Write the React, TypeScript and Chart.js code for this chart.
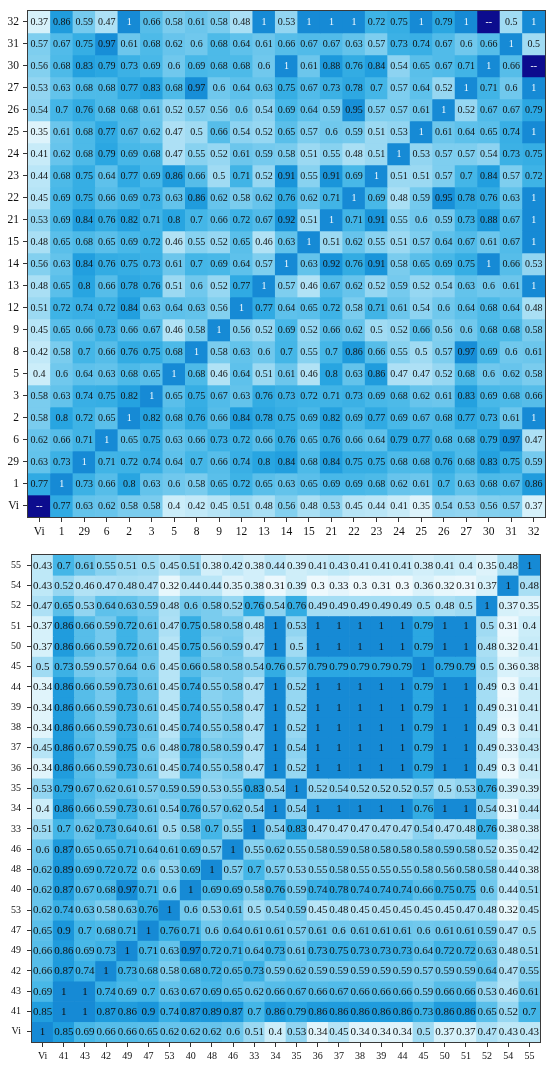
import React, { useEffect, useRef } from "react";
import { Chart, registerables } from "chart.js";

Chart.register(...registerables);

// ---------- Top heatmap data ----------
const topCols = ["Vi", "1", "29", "6", "2", "3", "5", "8", "9", "12", "13", "14", "15", "21", "22", "23", "24", "25", "26", "27", "30", "31", "32"];
const topRows = ["32", "31", "30", "27", "26", "25", "24", "23", "22", "21", "15", "14", "13", "12", "9", "8", "5", "3", "2", "6", "29", "1", "Vi"];
const topValues: (number | null)[][] = [
  [0.37, 0.86, 0.59, 0.47, 1, 0.66, 0.58, 0.61, 0.58, 0.48, 1, 0.53, 1, 1, 1, 0.72, 0.75, 1, 0.79, 1, null, 0.5, 1],
  [0.57, 0.67, 0.75, 0.97, 0.61, 0.68, 0.62, 0.6, 0.68, 0.64, 0.61, 0.66, 0.67, 0.67, 0.63, 0.57, 0.73, 0.74, 0.67, 0.6, 0.66, 1, 0.5],
  [0.56, 0.68, 0.83, 0.79, 0.73, 0.69, 0.6, 0.69, 0.68, 0.68, 0.6, 1, 0.61, 0.88, 0.76, 0.84, 0.54, 0.65, 0.67, 0.71, 1, 0.66, null],
  [0.53, 0.63, 0.68, 0.68, 0.77, 0.83, 0.68, 0.97, 0.6, 0.64, 0.63, 0.75, 0.67, 0.73, 0.78, 0.7, 0.57, 0.64, 0.52, 1, 0.71, 0.6, 1],
  [0.54, 0.7, 0.76, 0.68, 0.68, 0.61, 0.52, 0.57, 0.56, 0.6, 0.54, 0.69, 0.64, 0.59, 0.95, 0.57, 0.57, 0.61, 1, 0.52, 0.67, 0.67, 0.79],
  [0.35, 0.61, 0.68, 0.77, 0.67, 0.62, 0.47, 0.5, 0.66, 0.54, 0.52, 0.65, 0.57, 0.6, 0.59, 0.51, 0.53, 1, 0.61, 0.64, 0.65, 0.74, 1],
  [0.41, 0.62, 0.68, 0.79, 0.69, 0.68, 0.47, 0.55, 0.52, 0.61, 0.59, 0.58, 0.51, 0.55, 0.48, 0.51, 1, 0.53, 0.57, 0.57, 0.54, 0.73, 0.75],
  [0.44, 0.68, 0.75, 0.64, 0.77, 0.69, 0.86, 0.66, 0.5, 0.71, 0.52, 0.91, 0.55, 0.91, 0.69, 1, 0.51, 0.51, 0.57, 0.7, 0.84, 0.57, 0.72],
  [0.45, 0.69, 0.75, 0.66, 0.69, 0.73, 0.63, 0.86, 0.62, 0.58, 0.62, 0.76, 0.62, 0.71, 1, 0.69, 0.48, 0.59, 0.95, 0.78, 0.76, 0.63, 1],
  [0.53, 0.69, 0.84, 0.76, 0.82, 0.71, 0.8, 0.7, 0.66, 0.72, 0.67, 0.92, 0.51, 1, 0.71, 0.91, 0.55, 0.6, 0.59, 0.73, 0.88, 0.67, 1],
  [0.48, 0.65, 0.68, 0.65, 0.69, 0.72, 0.46, 0.55, 0.52, 0.65, 0.46, 0.63, 1, 0.51, 0.62, 0.55, 0.51, 0.57, 0.64, 0.67, 0.61, 0.67, 1],
  [0.56, 0.63, 0.84, 0.76, 0.75, 0.73, 0.61, 0.7, 0.69, 0.64, 0.57, 1, 0.63, 0.92, 0.76, 0.91, 0.58, 0.65, 0.69, 0.75, 1, 0.66, 0.53],
  [0.48, 0.65, 0.8, 0.66, 0.78, 0.76, 0.51, 0.6, 0.52, 0.77, 1, 0.57, 0.46, 0.67, 0.62, 0.52, 0.59, 0.52, 0.54, 0.63, 0.6, 0.61, 1],
  [0.51, 0.72, 0.74, 0.72, 0.84, 0.63, 0.64, 0.63, 0.56, 1, 0.77, 0.64, 0.65, 0.72, 0.58, 0.71, 0.61, 0.54, 0.6, 0.64, 0.68, 0.64, 0.48],
  [0.45, 0.65, 0.66, 0.73, 0.66, 0.67, 0.46, 0.58, 1, 0.56, 0.52, 0.69, 0.52, 0.66, 0.62, 0.5, 0.52, 0.66, 0.56, 0.6, 0.68, 0.68, 0.58],
  [0.42, 0.58, 0.7, 0.66, 0.76, 0.75, 0.68, 1, 0.58, 0.63, 0.6, 0.7, 0.55, 0.7, 0.86, 0.66, 0.55, 0.5, 0.57, 0.97, 0.69, 0.6, 0.61],
  [0.4, 0.6, 0.64, 0.63, 0.68, 0.65, 1, 0.68, 0.46, 0.64, 0.51, 0.61, 0.46, 0.8, 0.63, 0.86, 0.47, 0.47, 0.52, 0.68, 0.6, 0.62, 0.58],
  [0.58, 0.63, 0.74, 0.75, 0.82, 1, 0.65, 0.75, 0.67, 0.63, 0.76, 0.73, 0.72, 0.71, 0.73, 0.69, 0.68, 0.62, 0.61, 0.83, 0.69, 0.68, 0.66],
  [0.58, 0.8, 0.72, 0.65, 1, 0.82, 0.68, 0.76, 0.66, 0.84, 0.78, 0.75, 0.69, 0.82, 0.69, 0.77, 0.69, 0.67, 0.68, 0.77, 0.73, 0.61, 1],
  [0.62, 0.66, 0.71, 1, 0.65, 0.75, 0.63, 0.66, 0.73, 0.72, 0.66, 0.76, 0.65, 0.76, 0.66, 0.64, 0.79, 0.77, 0.68, 0.68, 0.79, 0.97, 0.47],
  [0.63, 0.73, 1, 0.71, 0.72, 0.74, 0.64, 0.7, 0.66, 0.74, 0.8, 0.84, 0.68, 0.84, 0.75, 0.75, 0.68, 0.68, 0.76, 0.68, 0.83, 0.75, 0.59],
  [0.77, 1, 0.73, 0.66, 0.8, 0.63, 0.6, 0.58, 0.65, 0.72, 0.65, 0.63, 0.65, 0.69, 0.69, 0.68, 0.62, 0.61, 0.7, 0.63, 0.68, 0.67, 0.86],
  [null, 0.77, 0.63, 0.62, 0.58, 0.58, 0.4, 0.42, 0.45, 0.51, 0.48, 0.56, 0.48, 0.53, 0.45, 0.44, 0.41, 0.35, 0.54, 0.53, 0.56, 0.57, 0.37],
];

// ---------- Bottom heatmap data ----------
const bottomCols = ["Vi", "41", "43", "42", "49", "47", "53", "40", "48", "46", "33", "34", "35", "36", "37", "38", "39", "44", "45", "50", "51", "52", "54", "55"];
const bottomRows = ["55", "54", "52", "51", "50", "45", "44", "39", "38", "37", "36", "35", "34", "33", "46", "48", "40", "53", "47", "49", "42", "43", "41", "Vi"];
const bottomValues: number[][] = [
  [0.43, 0.7, 0.61, 0.55, 0.51, 0.5, 0.45, 0.51, 0.38, 0.42, 0.38, 0.44, 0.39, 0.41, 0.43, 0.41, 0.41, 0.41, 0.38, 0.41, 0.4, 0.35, 0.48, 1],
  [0.43, 0.52, 0.46, 0.47, 0.48, 0.47, 0.32, 0.44, 0.44, 0.35, 0.38, 0.31, 0.39, 0.3, 0.33, 0.3, 0.31, 0.3, 0.36, 0.32, 0.31, 0.37, 1, 0.48],
  [0.47, 0.65, 0.53, 0.64, 0.63, 0.59, 0.48, 0.6, 0.58, 0.52, 0.76, 0.54, 0.76, 0.49, 0.49, 0.49, 0.49, 0.49, 0.5, 0.48, 0.5, 1, 0.37, 0.35],
  [0.37, 0.86, 0.66, 0.59, 0.72, 0.61, 0.47, 0.75, 0.58, 0.58, 0.48, 1, 0.53, 1, 1, 1, 1, 1, 0.79, 1, 1, 0.5, 0.31, 0.4],
  [0.37, 0.86, 0.66, 0.59, 0.72, 0.61, 0.45, 0.75, 0.56, 0.59, 0.47, 1, 0.5, 1, 1, 1, 1, 1, 0.79, 1, 1, 0.48, 0.32, 0.41],
  [0.5, 0.73, 0.59, 0.57, 0.64, 0.6, 0.45, 0.66, 0.58, 0.58, 0.54, 0.76, 0.57, 0.79, 0.79, 0.79, 0.79, 0.79, 1, 0.79, 0.79, 0.5, 0.36, 0.38],
  [0.34, 0.86, 0.66, 0.59, 0.73, 0.61, 0.45, 0.74, 0.55, 0.58, 0.47, 1, 0.52, 1, 1, 1, 1, 1, 0.79, 1, 1, 0.49, 0.3, 0.41],
  [0.34, 0.86, 0.66, 0.59, 0.73, 0.61, 0.45, 0.74, 0.55, 0.58, 0.47, 1, 0.52, 1, 1, 1, 1, 1, 0.79, 1, 1, 0.49, 0.31, 0.41],
  [0.34, 0.86, 0.66, 0.59, 0.73, 0.61, 0.45, 0.74, 0.55, 0.58, 0.47, 1, 0.52, 1, 1, 1, 1, 1, 0.79, 1, 1, 0.49, 0.3, 0.41],
  [0.45, 0.86, 0.67, 0.59, 0.75, 0.6, 0.48, 0.78, 0.58, 0.59, 0.47, 1, 0.54, 1, 1, 1, 1, 1, 0.79, 1, 1, 0.49, 0.33, 0.43],
  [0.34, 0.86, 0.66, 0.59, 0.73, 0.61, 0.45, 0.74, 0.55, 0.58, 0.47, 1, 0.52, 1, 1, 1, 1, 1, 0.79, 1, 1, 0.49, 0.3, 0.41],
  [0.53, 0.79, 0.67, 0.62, 0.61, 0.57, 0.59, 0.59, 0.53, 0.55, 0.83, 0.54, 1, 0.52, 0.54, 0.52, 0.52, 0.52, 0.57, 0.5, 0.53, 0.76, 0.39, 0.39],
  [0.4, 0.86, 0.66, 0.59, 0.73, 0.61, 0.54, 0.76, 0.57, 0.62, 0.54, 1, 0.54, 1, 1, 1, 1, 1, 0.76, 1, 1, 0.54, 0.31, 0.44],
  [0.51, 0.7, 0.62, 0.73, 0.64, 0.61, 0.5, 0.58, 0.7, 0.55, 1, 0.54, 0.83, 0.47, 0.47, 0.47, 0.47, 0.47, 0.54, 0.47, 0.48, 0.76, 0.38, 0.38],
  [0.6, 0.87, 0.65, 0.65, 0.71, 0.64, 0.61, 0.69, 0.57, 1, 0.55, 0.62, 0.55, 0.58, 0.59, 0.58, 0.58, 0.58, 0.58, 0.59, 0.58, 0.52, 0.35, 0.42],
  [0.62, 0.89, 0.69, 0.72, 0.72, 0.6, 0.53, 0.69, 1, 0.57, 0.7, 0.57, 0.53, 0.55, 0.58, 0.55, 0.55, 0.55, 0.58, 0.56, 0.58, 0.58, 0.44, 0.38],
  [0.62, 0.87, 0.67, 0.68, 0.97, 0.71, 0.6, 1, 0.69, 0.69, 0.58, 0.76, 0.59, 0.74, 0.78, 0.74, 0.74, 0.74, 0.66, 0.75, 0.75, 0.6, 0.44, 0.51],
  [0.62, 0.74, 0.63, 0.58, 0.63, 0.76, 1, 0.6, 0.53, 0.61, 0.5, 0.54, 0.59, 0.45, 0.48, 0.45, 0.45, 0.45, 0.45, 0.45, 0.47, 0.48, 0.32, 0.45],
  [0.65, 0.9, 0.7, 0.68, 0.71, 1, 0.76, 0.71, 0.6, 0.64, 0.61, 0.61, 0.57, 0.61, 0.6, 0.61, 0.61, 0.61, 0.6, 0.61, 0.61, 0.59, 0.47, 0.5],
  [0.66, 0.86, 0.69, 0.73, 1, 0.71, 0.63, 0.97, 0.72, 0.71, 0.64, 0.73, 0.61, 0.73, 0.75, 0.73, 0.73, 0.73, 0.64, 0.72, 0.72, 0.63, 0.48, 0.51],
  [0.66, 0.87, 0.74, 1, 0.73, 0.68, 0.58, 0.68, 0.72, 0.65, 0.73, 0.59, 0.62, 0.59, 0.59, 0.59, 0.59, 0.59, 0.57, 0.59, 0.59, 0.64, 0.47, 0.55],
  [0.69, 1, 1, 0.74, 0.69, 0.7, 0.63, 0.67, 0.69, 0.65, 0.62, 0.66, 0.67, 0.66, 0.67, 0.66, 0.66, 0.66, 0.59, 0.66, 0.66, 0.53, 0.46, 0.61],
  [0.85, 1, 1, 0.87, 0.86, 0.9, 0.74, 0.87, 0.89, 0.87, 0.7, 0.86, 0.79, 0.86, 0.86, 0.86, 0.86, 0.86, 0.73, 0.86, 0.86, 0.65, 0.52, 0.7],
  [1, 0.85, 0.69, 0.66, 0.66, 0.65, 0.62, 0.62, 0.62, 0.6, 0.51, 0.4, 0.53, 0.34, 0.45, 0.34, 0.34, 0.34, 0.5, 0.37, 0.37, 0.47, 0.43, 0.43],
];

// ---------- styling ----------
const FONT = '"Liberation Serif", "Times New Roman", serif';
const MISSING_COLOR = "#0c0c8e";
const colorStops: [number, number[]][] = [
  [0.3, [238, 249, 253]],
  [0.4, [203, 237, 249]],
  [0.5, [160, 219, 243]],
  [0.6, [112, 200, 237]],
  [0.7, [68, 182, 231]],
  [0.8, [40, 165, 225]],
  [0.9, [26, 150, 219]],
  [1.0, [22, 138, 213]],
];

function colorFor(v: number | null): string {
  if (v === null) return MISSING_COLOR;
  if (v <= colorStops[0][0]) return `rgb(${colorStops[0][1].join(",")})`;
  for (let i = 1; i < colorStops.length; i++) {
    const [x1, c1] = colorStops[i];
    const [x0, c0] = colorStops[i - 1];
    if (v <= x1) {
      const t = (v - x0) / (x1 - x0);
      const c = c0.map((a, k) => Math.round(a + (c1[k] - a) * t));
      return `rgb(${c.join(",")})`;
    }
  }
  return `rgb(${colorStops[colorStops.length - 1][1].join(",")})`;
}

type HeatOpts = {
  cols: string[];
  rows: string[];
  values: (number | null)[][];
  yWidth: number;
  xHeight: number;
  padTop: number;
  padRight: number;
  axisFont: number;
  cellFont: number;
  tickLen: number;
  yPad: number;
  whiteOnes: boolean;
};

function makeConfig(o: HeatOpts): any {
  const n = o.rows.length;
  const datasets = o.rows.map((r, i) => {
    const level = n - 1 - i;
    return {
      label: r,
      data: o.values[i].map(() => [level, level + 1]),
      backgroundColor: o.values[i].map((v) => colorFor(v)),
      borderWidth: 0,
      grouped: false,
      barPercentage: 1,
      categoryPercentage: 1,
    };
  });

  const textPlugin = {
    id: "cellText",
    afterDatasetsDraw(chart: any) {
      const ctx = chart.ctx;
      ctx.save();
      ctx.font = `${o.cellFont}px ${FONT}`;
      ctx.textAlign = "center";
      ctx.textBaseline = "middle";
      chart.data.datasets.forEach((_: any, di: number) => {
        const meta = chart.getDatasetMeta(di);
        meta.data.forEach((el: any, j: number) => {
          const v = o.values[di][j];
          const p = el.getProps(["x", "y", "base"], true);
          let txt: string;
          if (v === null) {
            txt = "--";
            ctx.fillStyle = "#ffffff";
          } else {
            txt = String(v);
            ctx.fillStyle = o.whiteOnes && v >= 0.995 ? "#f4fbff" : "#111111";
          }
          ctx.fillText(txt, p.x, (p.y + p.base) / 2 + 0.5);
        });
      });
      ctx.restore();
    },
  };

  const framePlugin = {
    id: "frame",
    afterDraw(chart: any) {
      const { left, right, top, bottom } = chart.chartArea;
      const ctx = chart.ctx;
      ctx.save();
      ctx.strokeStyle = "#3a3a3a";
      ctx.lineWidth = 1;
      ctx.strokeRect(Math.round(left) - 0.5, Math.round(top) - 0.5, Math.round(right - left) + 1, Math.round(bottom - top) + 1);
      ctx.restore();
    },
  };

  return {
    type: "bar",
    data: { labels: o.cols, datasets },
    options: {
      animation: false,
      responsive: false,
      maintainAspectRatio: false,
      events: [],
      layout: { padding: { top: o.padTop, right: o.padRight, left: 0, bottom: 0 } },
      plugins: { legend: { display: false }, tooltip: { enabled: false }, title: { display: false } },
      scales: {
        x: {
          type: "category",
          offset: true,
          grid: { display: true, offset: false, drawOnChartArea: false, drawTicks: true, tickLength: o.tickLen, color: "#333" },
          border: { display: true, color: "#333" },
          ticks: { autoSkip: false, maxRotation: 0, minRotation: 0, padding: 3, color: "#111", font: { family: FONT, size: o.axisFont } },
          afterFit: (s: any) => {
            s.height = o.xHeight;
          },
        },
        y: {
          type: "linear",
          min: 0,
          max: n,
          afterBuildTicks: (s: any) => {
            s.ticks = Array.from({ length: n }, (_, k) => ({ value: k + 0.5 }));
          },
          grid: { display: true, drawOnChartArea: false, drawTicks: true, tickLength: o.tickLen, color: "#333" },
          border: { display: true, color: "#333" },
          ticks: {
            autoSkip: false,
            padding: o.yPad,
            color: "#111",
            font: { family: FONT, size: o.axisFont },
            callback: (val: any) => o.rows[n - 1 - Math.floor(Number(val))],
          },
          afterFit: (s: any) => {
            s.width = o.yWidth;
          },
        },
      },
    },
    plugins: [textPlugin, framePlugin],
  };
}

function HeatCanvas({ opts, width, height }: { opts: HeatOpts; width: number; height: number }) {
  const ref = useRef<HTMLCanvasElement | null>(null);
  useEffect(() => {
    if (!ref.current) return;
    const chart = new Chart(ref.current, makeConfig(opts));
    return () => chart.destroy();
  }, []);
  return <canvas ref={ref} width={width} height={height} style={{ display: "block", width, height }} />;
}

export default function App() {
  const topOpts: HeatOpts = {
    cols: topCols,
    rows: topRows,
    values: topValues,
    yWidth: 28,
    xHeight: 23,
    padTop: 6,
    padRight: 5,
    axisFont: 11.5,
    cellFont: 10,
    tickLen: 5,
    yPad: 4,
    whiteOnes: true,
  };
  const bottomOpts: HeatOpts = {
    cols: bottomCols,
    rows: bottomRows,
    values: bottomValues,
    yWidth: 32,
    xHeight: 25,
    padTop: 15,
    padRight: 10,
    axisFont: 10,
    cellFont: 11,
    tickLen: 5,
    yPad: 6,
    whiteOnes: false,
  };
  return (
    <div style={{ position: "absolute", left: 0, top: 0, width: 550, height: 1067, background: "#fff" }}>
      <div style={{ position: "absolute", left: 0, top: 0 }}>
        <HeatCanvas opts={topOpts} width={550} height={540} />
      </div>
      <div style={{ position: "absolute", left: 0, top: 540 }}>
        <HeatCanvas opts={bottomOpts} width={550} height={527} />
      </div>
    </div>
  );
}
